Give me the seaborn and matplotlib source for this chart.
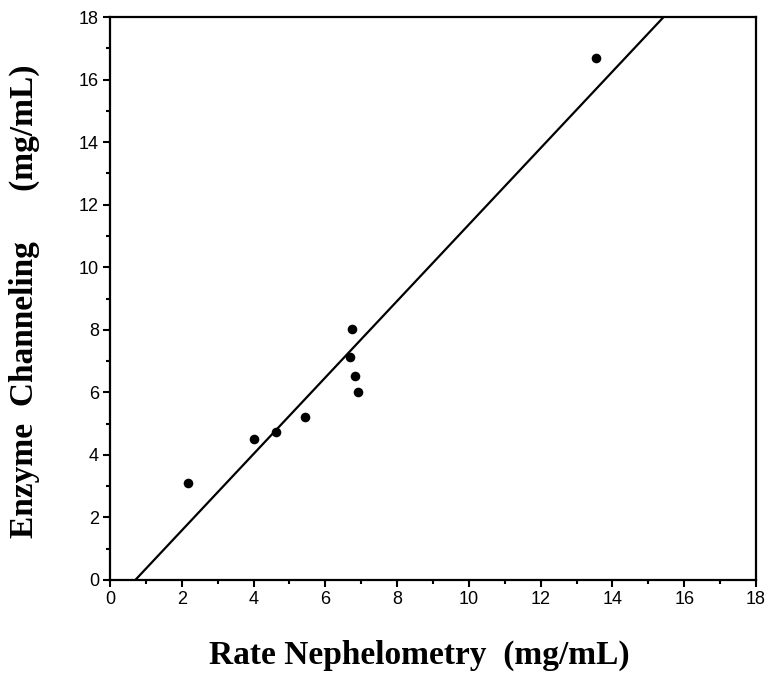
import matplotlib
matplotlib.use("Agg")
import matplotlib.pyplot as plt
import seaborn as sns
import pandas as pd
from matplotlib.ticker import MultipleLocator

rate_nephelometry = [2.16, 4.02, 4.63, 5.44, 6.75, 6.69, 6.83, 6.90, 13.55]
enzyme_channeling = [3.10, 4.51, 4.72, 5.22, 8.01, 7.12, 6.52, 6.01, 16.69]
x_ticks = [0, 2, 4, 6, 8, 10, 12, 14, 16, 18]
y_ticks = [0, 2, 4, 6, 8, 10, 12, 14, 16, 18]

df = pd.DataFrame({"x": rate_nephelometry, "y": enzyme_channeling})

sns.set_style("white")
plt.rcParams["font.family"] = ["Liberation Sans", "DejaVu Sans"]
plt.rcParams["text.color"] = "black"

fig = plt.figure(figsize=(7.66, 6.73), dpi=100)
ax = fig.add_axes([110 / 766, 1 - 580 / 673, (756 - 110) / 766, (580 - 17) / 673])
ax.set_xlim(0, 18)
ax.set_ylim(0, 18)

sns.regplot(data=df, x="x", y="y", ax=ax, ci=None, truncate=False,
            scatter_kws=dict(s=48, color="black", edgecolor="black", linewidths=0, alpha=1, zorder=3),
            line_kws=dict(color="black", linewidth=1.6))

ax.set_xlim(0, 18)
ax.set_ylim(0, 18)
ax.set_xticks(x_ticks)
ax.set_yticks(y_ticks)
ax.xaxis.set_minor_locator(MultipleLocator(1))
ax.yaxis.set_minor_locator(MultipleLocator(1))
ax.tick_params(which="major", direction="out", length=5, width=1.5, labelsize=13, color="black",
               labelcolor="black", pad=3)
ax.tick_params(which="minor", direction="out", length=3, width=1.5, color="black")
ax.tick_params(axis="both", which="both", bottom=True, left=True)
for s in ax.spines.values():
    s.set_color("black")
    s.set_linewidth(1.6)

ax.set_xlabel("")
ax.set_ylabel("")
fig.text(419 / 766, 1 - 655 / 673, "Rate Nephelometry  (mg/mL)", ha="center", va="center",
         fontsize=24, fontweight="bold", color="black", family=["Liberation Serif", "DejaVu Serif"])
fig.text(24 / 766, 1 - 301 / 673, "Enzyme  Channeling      (mg/mL)", ha="center", va="center",
         rotation=90, fontsize=24, fontweight="bold", color="black",
         family=["Liberation Serif", "DejaVu Serif"])

fig.savefig("out.png", dpi=100)
